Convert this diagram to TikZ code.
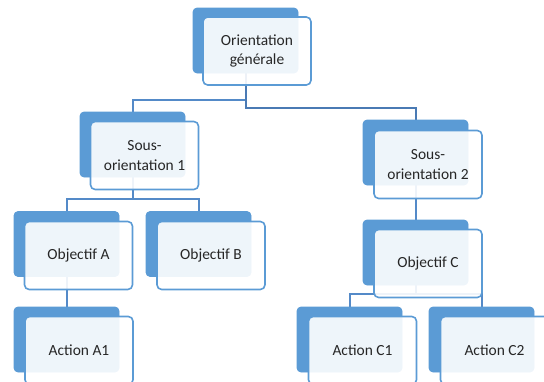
\documentclass[tikz,border=0pt]{standalone}
\usepackage{fontspec}
\setmainfont{Carlito}
\definecolor{boxblue}{RGB}{91,155,213}
\definecolor{linkblue}{RGB}{84,138,200}
\definecolor{linkdark}{RGB}{74,122,180}
\tikzset{
  backbox/.style={draw=none, fill=boxblue, rounded corners=3pt, minimum width=78.75pt, minimum height=48.75pt, inner sep=0pt},
  frontbox/.style={draw=boxblue, line width=1.2pt, fill=white, fill opacity=0.9, text opacity=1, rounded corners=3.5pt, minimum width=81pt, minimum height=51pt, inner sep=0pt, align=center, font=\fontsize{11.6}{14.4}\selectfont, text=black!85},
  link/.style={draw=linkblue, line width=1.5pt},
  linkd/.style={draw=linkdark, line width=1.5pt}
}
\begin{document}
\begin{tikzpicture}[x=0.75pt,y=-0.75pt]
\useasboundingbox (0,0) rectangle (544,382);
% back boxes
\node[backbox] (ogb)  at (245.5,40.5) {};
\node[backbox] (s1b)  at (132.5,144.5) {};
\node[backbox] (s2b)  at (415.5,152.5) {};
\node[backbox] (oab)  at (66.5,244) {};
\node[backbox] (obb)  at (198.5,244) {};
\node[backbox] (ocb)  at (415.5,252.5) {};
\node[backbox] (a1b)  at (66.5,339.5) {};
\node[backbox] (c1b)  at (349.5,339.5) {};
\node[backbox] (c2b)  at (481.5,339.5) {};
% connectors
\draw[link] (ogb.south) -- ++(0,27) -| (s1b.north);
\draw[linkd] (ogb.south) -- ++(0,35) -| (s2b.north);
\draw[link] (s1b.south) -- ++(0,22) -| (oab.north);
\draw[link] (s1b.south) -- ++(0,22) -| (obb.north);
\draw[link] (oab.south) -- (a1b.north);
\draw[link] (s2b.south) -- (ocb.north);
\draw[link] (ocb.south) -- ++(0,9) -| (c1b.north);
\draw[link] (ocb.south) -- ++(0,9) -| (c2b.north);
% redraw back boxes above connectors
\foreach \n in {ogb,s1b,s2b,oab,obb,ocb,a1b,c1b,c2b}
  \fill[boxblue, rounded corners=3pt] (\n.north west) rectangle (\n.south east);
% front boxes
\node[frontbox] (og) at (257,51) {Orientation\\générale};
\node[frontbox] (s1) at (144.5,155.5) {Sous-\\orientation 1};
\node[frontbox] (s2) at (428,164.5) {Sous-\\orientation 2};
\node[frontbox] (oa) at (78.5,255.5) {Objectif A};
\node[frontbox] (ob) at (211,255.5) {Objectif B};
\node[frontbox] (oc) at (428,263.5) {Objectif C};
\node[frontbox] (a1) at (79,350.5) {Action A1};
\node[frontbox] (c1) at (362.5,350.5) {Action C1};
\node[frontbox] (c2) at (494.5,350.5) {Action C2};
\end{tikzpicture}
\end{document}
